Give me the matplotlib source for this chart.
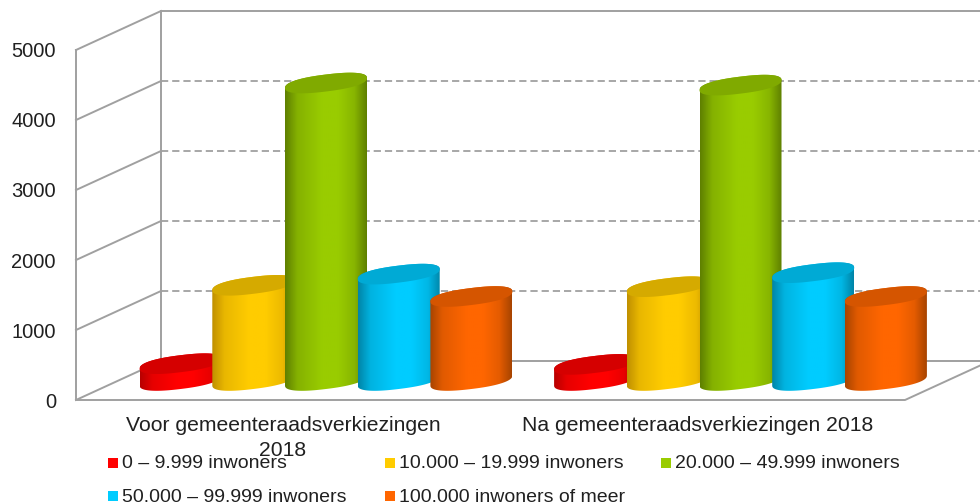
import numpy as np
from matplotlib import pyplot as plt
from matplotlib.colors import LinearSegmentedColormap, to_rgb
from matplotlib.path import Path
from matplotlib.patches import PathPatch, Rectangle

plt.rcParams['font.family'] = ['Liberation Sans', 'DejaVu Sans']

categories = ["Voor gemeenteraadsverkiezingen\n2018", "Na gemeenteraadsverkiezingen 2018"]
series_names = ["0 – 9.999 inwoners", "10.000 – 19.999 inwoners", "20.000 – 49.999 inwoners",
                "50.000 – 99.999 inwoners", "100.000 inwoners of meer"]
voor = [240, 1360, 4250, 1520, 1200]
na = [230, 1340, 4220, 1540, 1200]
y_ticks = [0, 1000, 2000, 3000, 4000, 5000]

# bright, shaded side, top face
colors = ["#FF0000", "#FFCC00", "#99CC00", "#00CCFF", "#FF6600"]
side_colors = ["#B80000", "#C09000", "#5F8000", "#0085A8", "#A84400"]
top_colors = ["#D50000", "#D5AA00", "#80AA00", "#00AAD5", "#D55500"]

W, H = 980, 504
GROUP_PX = 414.5  # px between the two groups
VALUE_PX = 0.07  # px per unit on y
X0_PX, Y0_PX = 326, 400  # where group 0 / value 0 on the front plane sit

DEPTH_X = 85 / GROUP_PX
DEPTH_Y = 39 / VALUE_PX
LEFT = (76 - X0_PX) / GROUP_PX
RIGHT = (905 - X0_PX) / GROUP_PX
STEP = 72.7 / GROUP_PX
HALF_W = 41 / GROUP_PX
TILT = 5 / VALUE_PX
MINOR = 8.5 / VALUE_PX
GRID = "#A0A0A0"


def rim(cx, cy, t):
    # squarish tilted ellipse, that's how the cylinder ends look in the picture
    c, s = np.cos(t), np.sin(t)
    c2 = np.sign(c) * np.abs(c) ** 0.85
    s2 = np.sign(s) * np.abs(s) ** 0.85
    return cx + HALF_W * c2, cy + TILT * c2 + MINOR * s2


def mix(a, b, f):
    return tuple((1 - f) * p + f * q for p, q in zip(to_rgb(a), to_rgb(b)))


def cylinder(ax, cx, value, idx, z):
    y0 = DEPTH_Y / 2
    top = y0 + value
    xb, yb = rim(cx, y0, np.linspace(np.pi, 2 * np.pi, 60))
    xt, yt = rim(cx, top, np.linspace(0, np.pi, 60))
    pts = np.column_stack([np.r_[xb, xt], np.r_[yb, yt]])
    patch = PathPatch(Path(np.vstack([pts, pts[0]]), closed=True), fc="none", ec="none",
                      transform=ax.transData)
    ax.add_patch(patch)
    cmap = LinearSegmentedColormap.from_list(
        "c", [(0, side_colors[idx]), (0.15, mix(side_colors[idx], colors[idx], 0.65)),
              (0.45, colors[idx]), (0.65, colors[idx]),
              (0.85, mix(side_colors[idx], colors[idx], 0.7)), (1, side_colors[idx])])
    im = ax.imshow(np.linspace(0, 1, 128)[None, :], cmap=cmap, aspect="auto", zorder=z,
                   extent=[cx - HALF_W, cx + HALF_W, y0 - DEPTH_Y, top + DEPTH_Y],
                   interpolation="bilinear")
    im.set_clip_path(patch)
    xe, ye = rim(cx, top, np.linspace(0, 2 * np.pi, 120))
    ax.fill(xe, ye, color=top_colors[idx], lw=0, zorder=z + 0.5)


fig = plt.figure(figsize=(W / 100, H / 100), dpi=100)
ax = fig.add_axes([0, 0, 1, 1])
ax.axis("off")

# walls and floor
for v in y_ticks:
    ax.plot([LEFT, LEFT + DEPTH_X], [v, v + DEPTH_Y], color=GRID, lw=1.4, zorder=1)
    ax.text(LEFT - 20 / GROUP_PX, v - 2 / VALUE_PX, str(v), ha="right", va="center", fontsize=14.5,
            color="#202020")
    if 0 < v < 5000:
        ax.plot([LEFT + DEPTH_X, RIGHT + DEPTH_X], [v + DEPTH_Y] * 2, color=GRID, lw=1.3,
                dashes=(4, 2.2), zorder=1)
ax.plot([LEFT, LEFT], [0, 5000], color=GRID, lw=1.4, zorder=1)
ax.plot([LEFT + DEPTH_X] * 2, [DEPTH_Y, 5000 + DEPTH_Y], color=GRID, lw=1.4, zorder=1)
ax.plot([LEFT + DEPTH_X, RIGHT + DEPTH_X], [5000 + DEPTH_Y] * 2, color=GRID, lw=1.4, zorder=1)
ax.plot([LEFT + DEPTH_X, RIGHT + DEPTH_X], [DEPTH_Y] * 2, color=GRID, lw=1.4, zorder=1)
ax.plot([LEFT, RIGHT, RIGHT + DEPTH_X], [0, 0, DEPTH_Y], color=GRID, lw=1.4, zorder=1)

z = 2
for g, vals in enumerate([voor, na]):
    for i, v in enumerate(vals):
        cylinder(ax, g + (i - 2) * STEP, v, i, z)
        z += 1

ax.set_xlim(-X0_PX / GROUP_PX, (W - X0_PX) / GROUP_PX)
ax.set_ylim((Y0_PX - H) / VALUE_PX, Y0_PX / VALUE_PX)

# category labels
label_y = -(416 - Y0_PX) / VALUE_PX
ax.text(-43 / GROUP_PX, label_y, categories[0], ha="center", va="top", fontsize=15.2, linespacing=1.4,
        color="#202020", zorder=30)
ax.text((698 - X0_PX) / GROUP_PX, label_y, categories[1], ha="center", va="top",
        fontsize=15.2, color="#202020", zorder=30)

# legend, placed by hand in picture pixels
legend_pos = [(122, 464), (399, 464), (675, 464), (122, 497), (399, 497)]
for i, name in enumerate(series_names):
    lx, ly = legend_pos[i]
    x = (lx - X0_PX) / GROUP_PX
    y = (Y0_PX - ly) / VALUE_PX
    ax.add_patch(Rectangle((x - 14 / GROUP_PX, y - 3.5 / VALUE_PX), 9.5 / GROUP_PX, 9.5 / VALUE_PX,
                           fc=colors[i], ec="none", zorder=30))
    ax.text(x, y, name, ha="left", va="center", fontsize=14, color="#202020", zorder=31)

fig.savefig("out.png", dpi=100)
